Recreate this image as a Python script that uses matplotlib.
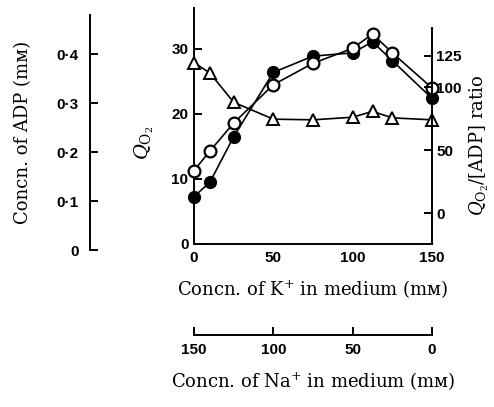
import matplotlib
matplotlib.use("Agg")
import matplotlib.pyplot as plt

plt.rcParams['mathtext.fontset'] = 'dejavuserif'

# data (K+ in medium, mM)
k_conc = [0, 10, 25, 50, 75, 100, 112.5, 125, 150]
qo2_filled = [7.3, 9.5, 16.5, 26.4, 28.9, 29.4, 31.1, 28.2, 22.4]
qo2_open = [11.3, 14.3, 18.6, 24.5, 27.8, 30.1, 32.3, 29.4, 24.0]
triangles = [27.9, 26.3, 21.8, 19.2, 19.1, 19.5, 20.4, 19.4, 19.1]

qo2_ticks = [0, 10, 20, 30]
ratio_ticks = [0, 50, 100, 125]
adp_ticks = [0, 0.1, 0.2, 0.3, 0.4]
adp_labels = ['0', '0·1', '0·2', '0·3', '0·4']
k_ticks = [0, 50, 100, 150]
na_ticks = [150, 100, 50, 0]

serif = ['DejaVu Serif']
tickfont = dict(family='Liberation Sans', weight='bold', size=11)
lw = 1.4

W, H = 494, 407
fig = plt.figure(figsize=(W / 100, H / 100), dpi=100)

def frac(x0, y_top, x1, y_bot):
    return [x0 / W, 1 - y_bot / H, (x1 - x0) / W, (y_bot - y_top) / H]

# main axes
ax = fig.add_axes(frac(194, 8, 432, 244))
ax.plot(k_conc, triangles, color='black', lw=1.2, marker='^', ms=9,
        mfc='white', mec='black', mew=1.4, zorder=3, clip_on=False)
ax.plot(k_conc, qo2_filled, color='black', lw=1.2, marker='o', ms=8.5,
        mfc='black', mec='black', zorder=4, clip_on=False)
ax.plot(k_conc, qo2_open, color='black', lw=1.2, marker='o', ms=8.5,
        mfc='white', mec='black', mew=1.6, zorder=5, clip_on=False)
ax.set_xlim(0, 150)
ax.set_ylim(0, 36.3)
ax.set_xticks(k_ticks)
ax.set_yticks(qo2_ticks)
ax.set_xticklabels([str(v) for v in k_ticks], fontdict=tickfont)
ax.set_yticklabels([str(v) for v in qo2_ticks], fontdict=tickfont)
ax.tick_params(axis='y', direction='in', length=6, width=lw, pad=4)
ax.tick_params(axis='x', length=0, pad=5)
for s in ['top', 'right']:
    ax.spines[s].set_visible(False)
for s in ['left', 'bottom']:
    ax.spines[s].set_linewidth(lw)
ax.set_xlabel('Concn. of K$^{+}$ in medium (mᴍ)', family=serif, fontsize=13, labelpad=10)
ax.set_ylabel('$Q_{\\mathrm{O}_2}$', fontsize=14)
ax.yaxis.set_label_coords(-0.16, 0.43)
ax.patch.set_alpha(0)

# right ratio axis
axr = ax.twinx()
axr.set_ylim(-24.6, 162.7)
axr.set_yticks(ratio_ticks)
axr.set_yticklabels([str(v) for v in ratio_ticks], fontdict=tickfont)
axr.tick_params(axis='y', direction='in', length=6, width=lw, pad=3)
for s in ['top', 'left', 'bottom']:
    axr.spines[s].set_visible(False)
axr.spines['right'].set_linewidth(lw)
axr.spines['right'].set_bounds(-24.6, 146.8)
axr.set_ylabel('$Q_{\\mathrm{O}_2}$/[ADP] ratio', family=serif, fontsize=13)
axr.yaxis.set_label_coords(1.2, 0.42)
axr.yaxis.label.set_va('center')

# ADP axis on the far left
axa = fig.add_axes(frac(90, 15, 91, 250))
axa.set_ylim(0, 0.48)
axa.set_yticks(adp_ticks)
axa.set_yticklabels(adp_labels, fontdict=tickfont)
axa.set_xticks([])
axa.tick_params(axis='y', direction='in', length=6, width=lw, pad=8)
for s in ['top', 'right', 'bottom']:
    axa.spines[s].set_visible(False)
axa.spines['left'].set_linewidth(lw)
axa.set_ylabel('Concn. of ADP (mᴍ)', family=serif, fontsize=13, labelpad=18)
axa.patch.set_alpha(0)

# Na+ axis underneath
axn = fig.add_axes(frac(194, 325, 432, 335))
axn.set_xlim(150, 0)
axn.set_xticks(na_ticks)
axn.set_xticklabels([str(v) for v in na_ticks], fontdict=tickfont)
axn.set_yticks([])
axn.tick_params(axis='x', direction='in', length=6, width=lw, pad=6)
for s in ['top', 'right', 'left']:
    axn.spines[s].set_visible(False)
axn.spines['bottom'].set_linewidth(lw)
axn.set_xlabel('Concn. of Na$^{+}$ in medium (mᴍ)', family=serif, fontsize=13, labelpad=10)
axn.patch.set_alpha(0)

fig.savefig('out.png', dpi=100)
